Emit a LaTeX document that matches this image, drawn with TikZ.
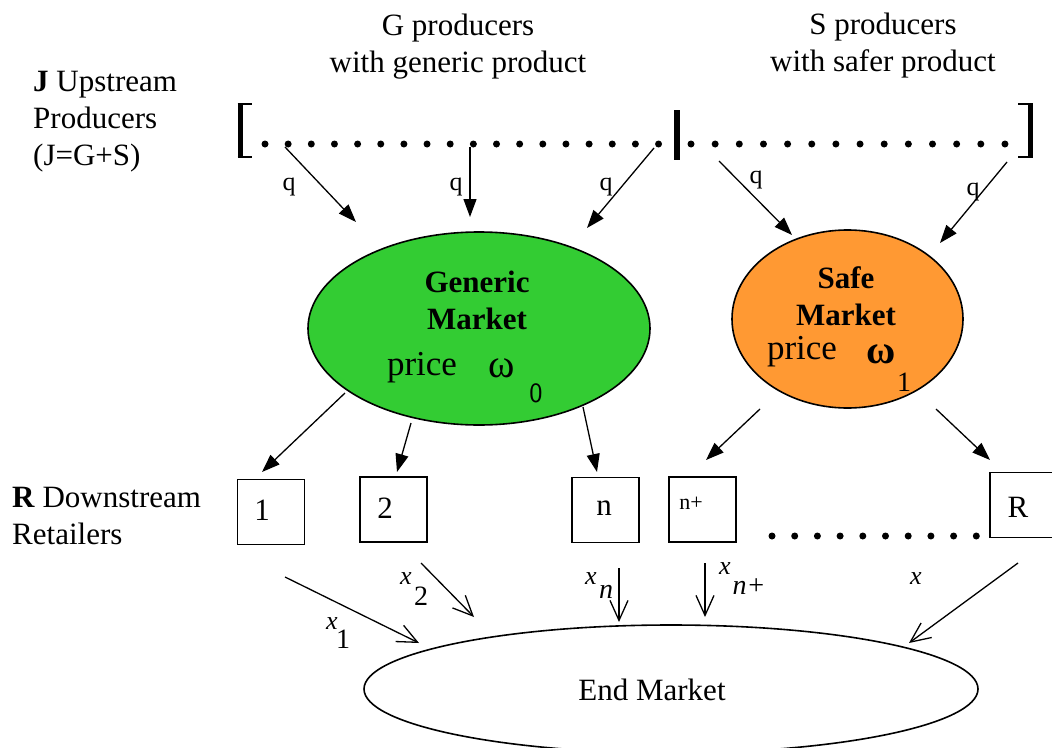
\documentclass[tikz,border=0pt]{standalone}
\usepackage{fontspec}
\setmainfont{Liberation Serif}
\usetikzlibrary{shapes.geometric,arrows.meta}
\begin{document}
\begin{tikzpicture}[x=1pt,y=-1pt,
  txt/.style={font=\fontsize{31}{37}\selectfont, inner sep=0pt, align=center},
  bigtxt/.style={font=\fontsize{35}{40}\selectfont, inner sep=0pt},
  omg/.style={font=\fontsize{40}{44}\selectfont, inner sep=0pt},
  ltxt/.style={font=\fontsize{31}{37}\selectfont, inner sep=0pt, align=left, anchor=west},
  ql/.style={font=\fontsize{26}{30}\selectfont, inner sep=0pt},
  subl/.style={font=\fontsize{28}{30}\selectfont, inner sep=0pt},
  farrow/.style={line width=1.3pt, -{Triangle[length=18pt,width=13pt]}},
  oarrow/.style={line width=1.3pt, -{Straight Barb[length=20pt,width=18pt,line width=1.3pt]}},
  pdot/.style={circle, fill=black, inner sep=0pt, minimum size=7pt},
  rbox/.style={draw, line width=1.5pt, minimum width=67pt, minimum height=65pt, inner sep=0pt},
  mkt/.style={ellipse, draw, line width=1.6pt, inner sep=0pt},
]
\useasboundingbox (0,0) rectangle (1052,747);
\definecolor{gengreen}{RGB}{51,204,51}
\definecolor{safeorange}{RGB}{255,153,51}

% header texts
\node[txt] (ghead) at (458,47) {G producers\\with generic product};
\node[txt] (shead) at (883,46) {S producers\\with safer product};
\node[ltxt] (jlab) at (33,122) {\textbf{J} Upstream\\Producers\\(J=G+S)};
\node[ltxt] (rlab) at (12,516) {\textbf{R} Downstream\\Retailers};

% brackets and separator
\draw[line width=5pt] (240,103) -- (240,158);
\draw[line width=2pt] (237.5,104) -- (252,104) (237.5,157) -- (252,157);
\draw[line width=5pt] (1030,103) -- (1030,158);
\draw[line width=2pt] (1032.5,104) -- (1018,104) (1032.5,157) -- (1018,157);
\draw[line width=6pt] (677,110) -- (677,160);

% producer dots
\foreach \i in {0,...,17} {
  \node[pdot] (g\i) at ({265+23.15*\i},144) {};
}
\foreach \i in {0,...,13} {
  \node[pdot] (s\i) at ({691+24.15*\i},144) {};
}

% markets
\node[mkt, fill=gengreen, minimum width=342pt, minimum height=193pt] (gm) at (479,328.5) {};
\node[mkt, fill=safeorange, minimum width=231pt, minimum height=178pt] (sm) at (847.5,319) {};
\node[mkt, minimum width=614pt, minimum height=128pt] (em) at (671,689) {};

\node[txt, font=\fontsize{31}{37}\selectfont\bfseries] (gmt) at (477,300) {Generic\\Market};
\node[bigtxt] (gprice) at (422,368) {price};
\node[omg] (gomega) at (502,368) {ω};
\node[subl, font=\fontsize{28}{30}\selectfont\sffamily] (gsub) at (536,393) {0};

\node[txt, font=\fontsize{31}{37}\selectfont\bfseries] (smt) at (846,296) {Safe\\Market};
\node[bigtxt] (sprice) at (802,352) {price};
\node[omg] (somega) at (881,354) {\textbf{ω}};
\node[subl] (ssub) at (904,382) {1};

\node[txt] (emt) at (652,690) {End Market};

% producer -> market arrows
\coordinate (a1s) at (285,147); \coordinate (a1e) at (356,222);
\coordinate (a2s) at (470,147); \coordinate (a2e) at (470,217);
\coordinate (a3s) at (654,148); \coordinate (a3e) at (587,228);
\coordinate (a4s) at (719,161); \coordinate (a4e) at (792,235);
\coordinate (a5s) at (1007,162); \coordinate (a5e) at (940,243);
\draw[farrow] (a1s) -- (a1e);
\draw[farrow] (a2s) -- (a2e);
\draw[farrow] (a3s) -- (a3e);
\draw[farrow] (a4s) -- (a4e);
\draw[farrow] (a5s) -- (a5e);
\node[ql] (q1) at (289,187) {q};
\node[ql] (q2) at (456,187) {q};
\node[ql] (q3) at (606,187) {q};
\node[ql] (q4) at (756,180) {q};
\node[ql] (q5) at (973,192) {q};

% retailers
\node[rbox] (r1) at (271,512) {};
\node[txt, anchor=center] at (262,510) {1};
\node[rbox] (r2) at (393.5,509.5) {};
\node[txt] at (385,508) {2};
\node[rbox] (rn) at (605.5,510) {};
\node[txt] at (604,508) {n};
\node[rbox] (rnp) at (702.5,509.5) {};
\node[font=\fontsize{22}{24}\selectfont, inner sep=0pt] at (691,503) {n+};
\node[rbox] (rR) at (1023.5,505) {};
\node[txt] at (1018,507) {R};

\foreach \i in {0,...,9} {
  \node[pdot] (b\i) at ({772+22.7*\i},536) {};
}

% market -> retailer arrows
\coordinate (m1s) at (345,393); \coordinate (m1e) at (262,472);
\coordinate (m2s) at (411,423); \coordinate (m2e) at (397,472);
\coordinate (m3s) at (583,407); \coordinate (m3e) at (597,472);
\coordinate (m4s) at (760,409); \coordinate (m4e) at (706,460);
\coordinate (m5s) at (936,409); \coordinate (m5e) at (990,460);
\draw[farrow] (m1s) -- (m1e);
\draw[farrow] (m2s) -- (m2e);
\draw[farrow] (m3s) -- (m3e);
\draw[farrow] (m4s) -- (m4e);
\draw[farrow] (m5s) -- (m5e);

% retailer -> end market arrows
\coordinate (e1s) at (285,577); \coordinate (e1e) at (419,643);
\coordinate (e2s) at (421,563); \coordinate (e2e) at (474,617);
\coordinate (e3s) at (619,568); \coordinate (e3e) at (619,622);
\coordinate (e4s) at (705,563); \coordinate (e4e) at (705,617);
\coordinate (e5s) at (1018,563); \coordinate (e5e) at (909,643);
\draw[oarrow] (e1s) -- (e1e);
\draw[oarrow] (e2s) -- (e2e);
\draw[oarrow] (e3s) -- (e3e);
\draw[oarrow] (e4s) -- (e4e);
\draw[oarrow] (e5s) -- (e5e);

\node[ql, font=\fontsize{26}{30}\selectfont\itshape] (x1) at (332,624) {x};
\node[subl] (x1s) at (343,639) {1};
\node[ql, font=\fontsize{26}{30}\selectfont\itshape] (x2) at (406,579) {x};
\node[subl] (x2s) at (421,596) {2};
\node[ql, font=\fontsize{26}{30}\selectfont\itshape] (xn) at (591,579) {x};
\node[subl, font=\fontsize{28}{30}\selectfont\itshape] (xns) at (606,592) {n};
\node[ql, font=\fontsize{26}{30}\selectfont\itshape] (xnp) at (725,569) {x};
\node[subl, font=\fontsize{28}{30}\selectfont\itshape] (xnps) at (749,587) {n+};
\node[ql, font=\fontsize{26}{30}\selectfont\itshape] (xR) at (916,579) {x};
\end{tikzpicture}
\end{document}
